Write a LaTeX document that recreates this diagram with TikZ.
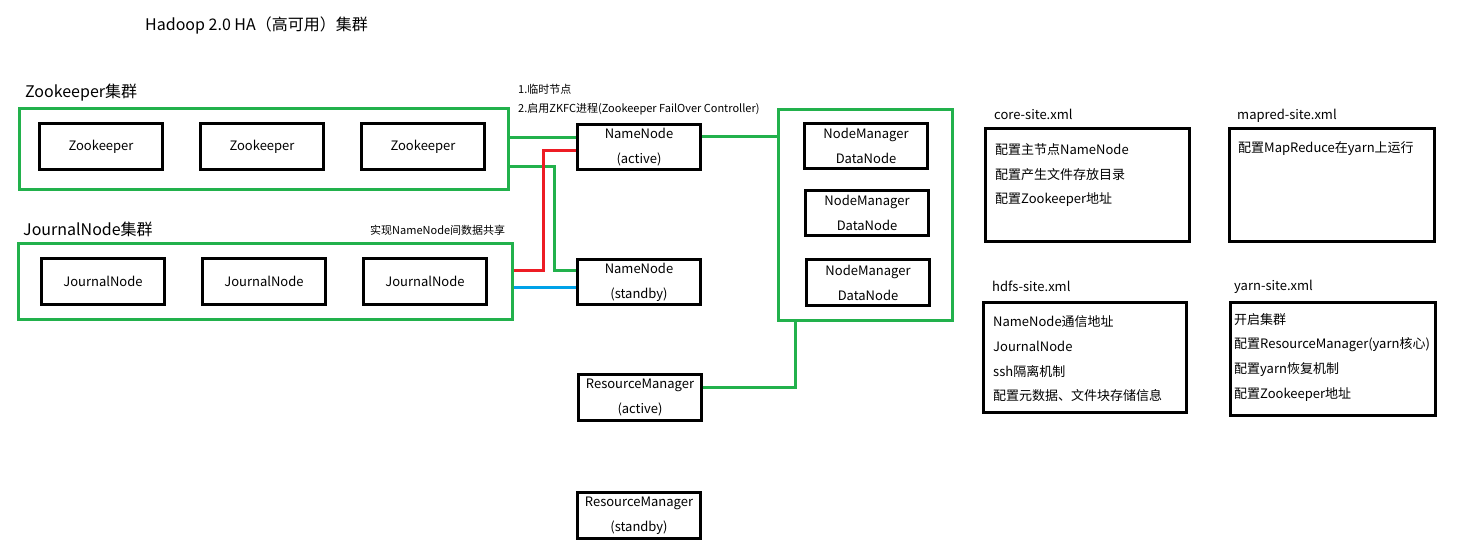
\documentclass[tikz,border=0pt]{standalone}
\usepackage{fontspec}
\setmainfont{Noto Sans CJK SC}
\definecolor{pgreen}{HTML}{22B14C}
\definecolor{pred}{HTML}{ED1C24}
\definecolor{pblue}{HTML}{00A2E8}
\tikzset{
  box/.style={draw=black, line width=3pt, inner sep=0pt, minimum width=123pt, minimum height=46pt, align=center, font=\fontsize{13}{25}\selectfont},
  cluster/.style={draw=pgreen, line width=3pt, inner sep=0pt},
  cfgbox/.style={draw=black, line width=3pt, inner sep=0pt},
  gline/.style={draw=pgreen, line width=3pt},
  rline/.style={draw=pred, line width=3pt},
  bline/.style={draw=pblue, line width=3pt},
  lbl/.style={anchor=west, inner sep=0pt, yshift=-1.5pt, font=\fontsize{13}{15}\selectfont},
  biglbl/.style={anchor=west, inner sep=0pt, yshift=-1.5pt, font=\fontsize{16}{18}\selectfont},
  small/.style={anchor=west, inner sep=0pt, yshift=-1pt, font=\fontsize{11}{13}\selectfont},
}
\begin{document}
\begin{tikzpicture}[x=1pt,y=-1pt]
\useasboundingbox[fill=white] (0,0) rectangle (1458,554);
% title
\node[biglbl] (title) at (145,24) {Hadoop 2.0 HA（高可用）集群};
% zookeeper cluster
\node[biglbl] (zkl) at (25,91) {Zookeeper集群};
\node[cluster, minimum width=489pt, minimum height=81pt] (zkc) at (264,149) {};
\node[box] (zk1) at (101,146.5) {Zookeeper};
\node[box] (zk2) at (262,146.5) {Zookeeper};
\node[box] (zk3) at (423,146.5) {Zookeeper};
% journal cluster
\node[biglbl] (jnl) at (23,228) {JournalNode集群};
\node[small] (jnnote) at (370,229) {实现NameNode间数据共享};
\node[cluster, minimum width=494pt, minimum height=76pt] (jnc) at (265.5,281.5) {};
\node[box] (jn1) at (103,281.5) {JournalNode};
\node[box] (jn2) at (264,281.5) {JournalNode};
\node[box] (jn3) at (425,281.5) {JournalNode};
% notes
\node[small] (n1) at (518,88) {1.临时节点};
\node[small] (n2) at (518,108) {2.启用ZKFC进程(Zookeeper FailOver Controller)};
% namenodes
\node[box, minimum height=45pt] (nna) at (639,147) {NameNode\\(active)};
\node[box, minimum height=45pt] (nns) at (639,282) {NameNode\\(standby)};
% resource managers
\node[box] (rma) at (640,397.5) {ResourceManager\\(active)};
\node[box] (rms) at (639,515.5) {ResourceManager\\(standby)};
% data cluster
\node[cluster, minimum width=174pt, minimum height=211pt] (dc) at (865.5,215) {};
\node[box, minimum height=45pt] (dn1) at (866,146) {NodeManager\\DataNode};
\node[box, minimum height=45pt] (dn2) at (867,213) {NodeManager\\DataNode};
\node[box] (dn3) at (868,282.5) {NodeManager\\DataNode};
% connectors
\draw[gline] (zkc.east |- 0,137) -- (nna.west |- 0,137);
\draw[gline] (zkc.east |- 0,166) -- (554,166) -- (554,270) -- (nns.west |- 0,270);
\draw[rline] (jnc.east |- 0,270) -- (543,270) -- (543,150) -- (nna.west |- 0,150);
\draw[bline] (jnc.east |- 0,287) -- (nns.west |- 0,287);
\draw[gline] (nna.east |- 0,136) -- (dc.west |- 0,136);
\draw[gline] (rma.east |- 0,387) -- (795,387) -- (dc.south -| 795,0);
% config boxes
\node[lbl] (corel) at (994,113) {core-site.xml};
\node[cfgbox, minimum width=204pt, minimum height=113pt] (core) at (1087.5,185) {};
\node[lbl] (c1) at (995,148) {配置主节点NameNode};
\node[lbl] (c2) at (995,173) {配置产生文件存放目录};
\node[lbl] (c3) at (995,198) {配置Zookeeper地址};
\node[lbl] (mapl) at (1237,114) {mapred-site.xml};
\node[cfgbox, minimum width=205pt, minimum height=113pt] (mapred) at (1332,185) {};
\node[lbl] (m1) at (1238,147) {配置MapReduce在yarn上运行};
\node[lbl] (hdfsl) at (992,285) {hdfs-site.xml};
\node[cfgbox, minimum width=203pt, minimum height=110pt] (hdfs) at (1085,357.5) {};
\node[lbl] (h1) at (993,320) {NameNode通信地址};
\node[lbl] (h2) at (993,345) {JournalNode};
\node[lbl] (h3) at (993,370) {ssh隔离机制};
\node[lbl] (h4) at (993,394) {配置元数据、文件块存储信息};
\node[lbl] (yarnl) at (1234,285) {yarn-site.xml};
\node[cfgbox, minimum width=205pt, minimum height=113pt] (yarn) at (1333,359) {};
\node[lbl] (y1) at (1234,318) {开启集群};
\node[lbl] (y2) at (1234,343) {配置ResourceManager(yarn核心)};
\node[lbl] (y3) at (1234,368) {配置yarn恢复机制};
\node[lbl] (y4) at (1234,393) {配置Zookeeper地址};
\end{tikzpicture}
\end{document}
